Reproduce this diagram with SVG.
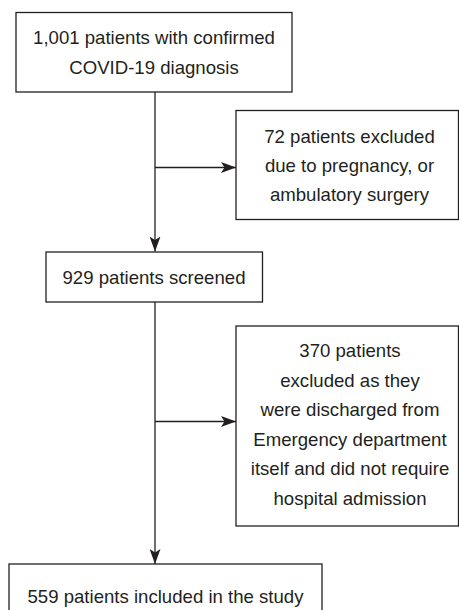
<svg xmlns="http://www.w3.org/2000/svg" width="459" height="610" viewBox="0 0 459 610">
<style>
.box{fill:#ffffff;stroke:#231f20;stroke-width:1.3}
.t{font-family:"Liberation Sans",Arial,sans-serif;font-size:18.6px;fill:#231f20;text-anchor:middle}
.c{fill:none;stroke:#231f20;stroke-width:1.3}
</style>
<defs>
<marker id="ah" viewBox="0 0 15 11" refX="15" refY="5.5" markerWidth="15" markerHeight="11" markerUnits="userSpaceOnUse" orient="auto">
<path d="M0,0 L15,5.5 L0,11 L3.5,5.5 Z" fill="#231f20"/>
</marker>
</defs>
<rect width="459" height="610" fill="#ffffff"/>
<g id="connectors">
<line class="c" x1="155" y1="92" x2="155" y2="251.5" marker-end="url(#ah)"/>
<line class="c" x1="155" y1="167.5" x2="236" y2="167.5" marker-end="url(#ah)"/>
<line class="c" x1="155" y1="302" x2="155" y2="564" marker-end="url(#ah)"/>
<line class="c" x1="155" y1="421.5" x2="236" y2="421.5" marker-end="url(#ah)"/>
</g>
<g id="n1">
<rect class="box" x="16" y="12.5" width="276" height="79.5"/>
<text class="t" x="154" y="44">1,001 patients with confirmed</text>
<text class="t" x="154" y="74">COVID-19 diagnosis</text>
</g>
<g id="n2">
<rect class="box" x="236" y="110.5" width="222.5" height="109"/>
<text class="t" x="349.5" y="142.7">72 patients excluded</text>
<text class="t" x="349.5" y="171.7">due to pregnancy, or</text>
<text class="t" x="349.5" y="200.5">ambulatory surgery</text>
</g>
<g id="n3">
<rect class="box" x="46" y="252" width="216.5" height="50"/>
<text class="t" x="154" y="284">929 patients screened</text>
</g>
<g id="n4">
<rect class="box" x="236" y="326" width="222.5" height="200"/>
<text class="t" x="350" y="357.3">370 patients</text>
<text class="t" x="350" y="387">excluded as they</text>
<text class="t" x="350" y="416.3">were discharged from</text>
<text class="t" x="350" y="445.8">Emergency department</text>
<text class="t" x="350" y="475.2">itself and did not require</text>
<text class="t" x="350" y="504.8">hospital admission</text>
</g>
<g id="n5">
<rect class="box" x="9" y="564" width="313" height="60"/>
<text class="t" x="165.5" y="603.3">559 patients included in the study</text>
</g>
</svg>
